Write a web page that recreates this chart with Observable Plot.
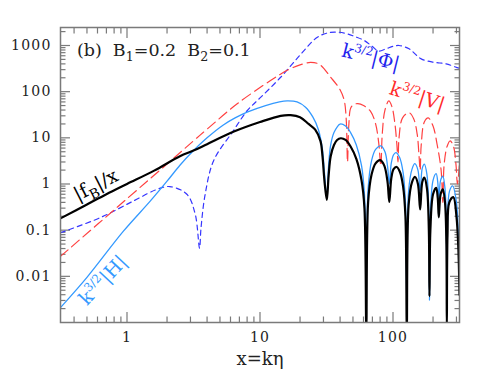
<!DOCTYPE html>
<html>
<head>
<meta charset="utf-8">
<script src="https://cdn.jsdelivr.net/npm/d3@7"></script>
<script src="https://cdn.jsdelivr.net/npm/@observablehq/plot@0.6"></script>
<style>
  html, body { margin: 0; padding: 0; background: #fff; }
  .chart { background: #fff; }
  .chart g[aria-label="x-axis tick label"] text,
  .chart g[aria-label="y-axis tick label"] text { letter-spacing: 1.2px; }
  .chart g[aria-label="curve label"] text { letter-spacing: 1px; }
  .chart g[aria-label="axis title"] text { letter-spacing: 1px; }
</style>
</head>
<body>
<div id="chart"></div>
<script>
// ---- data ----
// |f_B|/x  (black, solid)
const fbX = [0.316,0.5,0.7,1,1.6,2.5,3.16,4,6.3,10,14.3,17,20,23.2,26,28.5,29.5,30.5,31.8,32.8,34,36,38,40.5,44,48,53,58,61,63,65,69,74,80,86,91,93.8,97,101,106.6,113,119,124,127,131,139,146.6,154,160,166,172,180,186,188,191,200,211,217,221,228,237,246,252,254,257,265,284,300,310,316];
const fbY = [0.18,0.36,0.6,1.0,1.95,4.0,5.3,7.3,13.5,22,30,31,28,20,15,8.5,4,1.2,0.45,1.5,4,7,9,9.8,9,6.5,3.5,1.2,0.3,0.0008,0.4,1.6,2.8,3.3,2.5,1.1,0.41,1.3,2.1,2.34,1.8,0.9,0.2,0.0008,0.35,1.1,1.42,1.0,0.28,1.1,1.37,0.8,0.1,0.0037,0.1,0.6,0.83,0.5,0.19,0.6,0.77,0.4,0.05,0.0008,0.08,0.4,0.52,0.2,0.04,0.004];
// k^{3/2}|H|  (light blue, solid)
const hX = [0.316,0.5,0.94,1.5,2.0,2.5,3.1,4,5.3,6.5,8,11,14,16,19,22,25,27.5,29.5,30.5,31.8,32.8,34,36,40,44,48,53,58,61,63,65,69,74,81,87,91,94,97,101,105,112,119,124,127,131,139,146,154,160,166,172,180,186,188,191,200,211,217,221,228,237,246,252,254,257,266,281,300,310,316];
const hY = [0.0021,0.0095,0.095,0.43,1.15,2.55,5.0,10,19,27,36,50,60,63,60,46,28,15,5.5,1.8,0.5,2.5,7,13,19.9,18,13,7,2.5,0.6,0.02,0.8,3.2,5.6,6.7,5,2.4,1.0,2.8,4.3,4.8,3.8,1.8,0.4,0.003,0.7,2.1,2.76,2.0,0.7,2.2,2.7,1.6,0.2,0.003,0.2,1.2,1.67,1.1,0.45,1.2,1.47,0.8,0.1,0.002,0.15,0.7,0.91,0.4,0.08,0.02];
// k^{3/2}|V|  (red, long dashes)
const vX = [0.316,1,2.11,3.16,4,6.7,12,16,20,24,28,34,40,43,44.5,45.5,46.5,48.2,51,54.4,60,68,74,78,81,83,87,93,98,103,107,109,111,118,132,143,152,157,160,163,172,184,200,215,230,237,242,255,269,285,298,305,316];
const vY = [0.027,0.48,3.1,8.6,15.4,54,174,290,380,430,390,205,110,64,25,3,18,45,53,55,50,37,20,8,2.5,12,40,63,48,22,7,3,10,27,35,26,12,4,2,7,22,27,18,7,2,0.4,2.5,6.5,8.6,6.5,2.5,1,2.7];
// k^{3/2}|Phi|  (blue, short dashes)
const phiX = [0.316,0.625,1.12,1.67,2.1,2.82,3.26,3.51,3.6,3.87,4.48,6.3,8,10.1,14.3,20,27,33,38.3,45,52,60.7,70,78,88.6,100,111,132,163,204,251,299,316];
const phiY = [0.088,0.185,0.43,0.76,0.88,0.6,0.22,0.041,0.11,0.6,3.2,14.2,38.6,75,205,620,1510,1900,1950,1800,1550,1285,950,760,848,960,1000,848,514,433,400,337,320];

// tick values
const xMajorTicks = [1, 10, 100];
const xMinorTicks = [0.4,0.5,0.6,0.7,0.8,0.9,2,3,4,5,6,7,8,9,20,30,40,50,60,70,80,90,200,300];
const yMajorTicks = [0.01, 0.1, 1, 10, 100, 1000];
const yMinorTicks = [0.002,0.003,0.004,0.005,0.006,0.007,0.008,0.009,
                     0.02,0.03,0.04,0.05,0.06,0.07,0.08,0.09,
                     0.2,0.3,0.4,0.5,0.6,0.7,0.8,0.9,
                     2,3,4,5,6,7,8,9,
                     20,30,40,50,60,70,80,90,
                     200,300,400,500,600,700,800,900,2000];

// text
const titleText = "(b)  B_1=0.2  B_2=0.1";
const xAxisTitle = "x=kη";
const labelText = ["|f_B|/x", "k^{3/2}|H|", "k^{3/2}|Φ|", "k^{3/2}|V|"];

// ---- build ----
const zip = (xs, ys) => xs.map((x, i) => ({x, y: ys[i]}));
const fb = zip(fbX, fbY), hh = zip(hX, hY), vv = zip(vX, vY), phi = zip(phiX, phiY);

const frameColor = "#7a7a7a";
const cBlack = "#000000", cH = "#3399ff", cV = "#ff4040", cPhi = "#3535ff";

const labels = [
  {t: labelText[0], x: 0.584, y: 0.95,   r: -27, c: cBlack},
  {t: labelText[1], x: 0.66,  y: 0.0082, r: -47, c: cH},
  {t: labelText[2], x: 68,    y: 548,    r: 14,  c: "#2222ee"},
  {t: labelText[3], x: 152,   y: 78,     r: 18,  c: "#ff2a2a"}
];

const tickAxes = [];
for (const [ticks, size] of [[xMajorTicks, -10], [xMinorTicks, -5.5]]) {
  for (const anchor of ["bottom", "top"]) {
    tickAxes.push(Plot.axisX(ticks, {anchor, tickSize: size, tickFormat: () => "", stroke: frameColor, strokeWidth: 1.2, label: null}));
  }
}
for (const [ticks, size] of [[yMajorTicks, -10], [yMinorTicks, -5.5]]) {
  for (const anchor of ["left", "right"]) {
    tickAxes.push(Plot.axisY(ticks, {anchor, tickSize: size, tickFormat: () => "", stroke: frameColor, strokeWidth: 1.2, label: null}));
  }
}

const fig = Plot.plot({
  width: 485,
  height: 370,
  marginLeft: 60,
  marginRight: 26,
  marginTop: 27,
  marginBottom: 48,
  className: "chart",
  style: {fontFamily: "'DejaVu Serif', serif", background: "#fff"},
  x: {type: "log", domain: [Math.pow(10, -0.5), Math.pow(10, 2.5)], label: null},
  y: {type: "log", domain: [0.001, Math.pow(10, 3.39)], label: null},
  color: {type: "identity"},
  marks: [
    ...tickAxes,
    Plot.axisX(xMajorTicks, {anchor: "bottom", tickSize: 0, tickPadding: 10, tickFormat: d => String(d), fontSize: 14, fill: "#222", label: null}),
    Plot.axisY(yMajorTicks, {anchor: "left", tickSize: 0, tickPadding: 9, tickFormat: d => String(d), fontSize: 14, fill: "#222", label: null}),
    Plot.line(phi, {x: "x", y: "y", stroke: cPhi, strokeWidth: 1.2, strokeDasharray: "5,4", curve: "catmull-rom", clip: true}),
    Plot.line(vv, {x: "x", y: "y", stroke: cV, strokeWidth: 1.2, strokeDasharray: "10,5", curve: "catmull-rom", clip: true}),
    Plot.line(hh, {x: "x", y: "y", stroke: cH, strokeWidth: 1.3, curve: "catmull-rom", clip: true}),
    Plot.line(fb, {x: "x", y: "y", stroke: cBlack, strokeWidth: 2.2, curve: "catmull-rom", clip: true}),
    Plot.frame({stroke: frameColor, strokeWidth: 1.5}),
    Plot.text(labels, {x: "x", y: "y", text: "t", rotate: "r", fill: "c", fontSize: 19, textAnchor: "middle", lineAnchor: "middle", ariaLabel: "curve label"}),
    Plot.text([titleText], {x: () => 0.42, y: () => 800, text: d => d, fontSize: 17.5, textAnchor: "start", lineAnchor: "middle", fill: "#222", ariaLabel: "panel title"}),
    Plot.text([xAxisTitle], {frameAnchor: "bottom", dy: 37, text: d => d, fontSize: 18, lineAnchor: "middle", fill: "#222", ariaLabel: "axis title"})
  ]
});

document.getElementById("chart").appendChild(fig);

// widen the panel title like the reference's spaced lettering
fig.querySelectorAll('g[aria-label="panel title"] text').forEach(t => t.setAttribute("letter-spacing", "3.4"));

// sub/superscript markup -> tspans
(function richText(svg) {
  const NS = "http://www.w3.org/2000/svg";
  svg.querySelectorAll("text").forEach(el => {
    const s = el.textContent;
    if (!/[_^]/.test(s)) return;
    const F = parseFloat(getComputedStyle(el).fontSize) || 16;
    el.textContent = "";
    const re = /\^\{([^}]*)\}|_\{([^}]*)\}|_(.)|([^_^]+)/g;
    let m, shift = 0;
    while ((m = re.exec(s))) {
      const ts = document.createElementNS(NS, "tspan");
      let target = 0, size = null, str;
      if (m[1] !== undefined) { target = -0.42 * F; size = 0.62 * F; str = m[1]; }
      else if (m[2] !== undefined || m[3] !== undefined) { target = 0.3 * F; size = 0.72 * F; str = m[2] !== undefined ? m[2] : m[3]; }
      else { str = m[4]; }
      ts.setAttribute("dy", (target - shift).toFixed(2));
      shift = target;
      if (size) ts.setAttribute("font-size", size.toFixed(2));
      ts.textContent = str;
      el.appendChild(ts);
    }
  });
})(fig);
</script>
</body>
</html>
